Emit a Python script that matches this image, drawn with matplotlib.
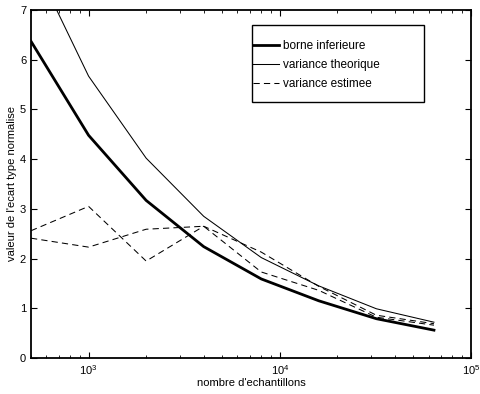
import matplotlib
matplotlib.use("Agg")
from matplotlib import pyplot as plt
from matplotlib.patches import Rectangle

plt.rcParams['font.family'] = ['Liberation Sans', 'DejaVu Sans']
plt.rcParams['font.size'] = 8

n = [500, 1000, 2000, 4000, 8000, 16000, 32000, 64000]
borne = [6.37, 4.48, 3.17, 2.24, 1.59, 1.15, 0.79, 0.56]
theorique = [8.07, 5.67, 4.02, 2.85, 2.02, 1.45, 0.99, 0.72]
estimee1 = [2.56, 3.05, 1.95, 2.65, 2.13, 1.44, 0.86, 0.69]
estimee2 = [2.41, 2.23, 2.59, 2.65, 1.73, 1.36, 0.82, 0.66]

fig = plt.figure(figsize=(4.8, 3.94), dpi=100)
ax = fig.add_axes([0.0646, 0.0914, 0.9167, 0.8832])

ax.semilogx(n, borne, 'k-', lw=2, label='borne inferieure')
ax.semilogx(n, theorique, 'k-', lw=0.75, label='variance theorique')
ax.semilogx(n, estimee1, 'k--', lw=0.75, dashes=(6, 4), label='variance estimee')
ax.semilogx(n, estimee2, 'k--', lw=0.75, dashes=(6, 4))

ax.set_xlim(500, 1e5)
ax.set_ylim(0, 7)
ax.set_yticks(range(8))
ax.set_xlabel("nombre d'echantillons", labelpad=1)
ax.set_ylabel("valeur de l'ecart type normalise", labelpad=2)

for s in ax.spines.values():
    s.set_linewidth(1.3)
ax.tick_params(which='both', direction='in', top=True, right=True)
ax.tick_params(which='major', length=4, width=0.8)
ax.tick_params(which='minor', length=2, width=0.6)

# legend box drawn by hand (MATLAB style, wide right padding)
ax.add_patch(Rectangle((0.502, 0.736), 0.391, 0.221, transform=ax.transAxes,
                       facecolor='white', edgecolor='black', lw=1.0, zorder=4))
leg = ax.legend(loc='upper left', bbox_to_anchor=(0.5045, 0.914), borderaxespad=0,
                borderpad=0, frameon=False, handlelength=2.2, handletextpad=0.35,
                labelspacing=0.6, prop={'size': 8.5})
leg.set_zorder(5)

fig.savefig('out.png', dpi=100)
